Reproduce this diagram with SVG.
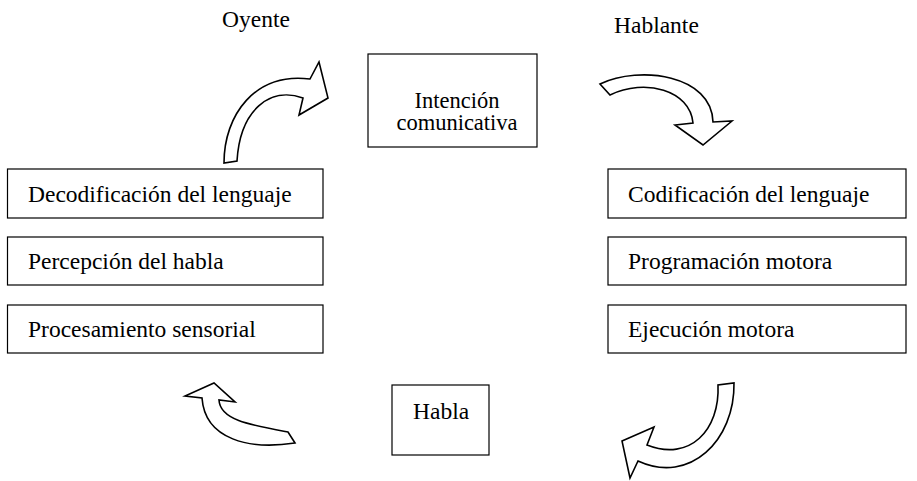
<svg xmlns="http://www.w3.org/2000/svg" width="917" height="481" viewBox="0 0 917 481">
<style>
.box{fill:#fff;stroke:#000;stroke-width:1.2}
text{font-family:'Liberation Serif','Tinos','Noto Serif','DejaVu Serif',serif;font-size:23.5px;fill:#000}
.mid{font-size:22.5px}
.arr{fill:#fff;stroke:#000;stroke-width:1.6;stroke-linejoin:miter}
</style>
<rect width="917" height="481" fill="#fff"/>
<g id="label-oyente"><text x="222" y="27">Oyente</text></g>
<g id="label-hablante"><text x="614" y="33">Hablante</text></g>
<g id="intencion">
<rect class="box" x="368" y="54" width="169" height="93"/>
<text class="mid" x="457" y="108" text-anchor="middle">Intención</text>
<text class="mid" x="457" y="130" text-anchor="middle">comunicativa</text>
</g>
<g id="decodificacion"><rect class="box" x="7.5" y="169" width="315.5" height="49"/><text x="28" y="201.5">Decodificación del lenguaje</text></g>
<g id="percepcion"><rect class="box" x="7.5" y="237" width="315.5" height="48"/><text x="28" y="269">Percepción del habla</text></g>
<g id="procesamiento"><rect class="box" x="7.5" y="305" width="315.5" height="48"/><text x="28" y="337">Procesamiento sensorial</text></g>
<g id="codificacion"><rect class="box" x="608" y="169" width="298" height="49"/><text x="628" y="201.5">Codificación del lenguaje</text></g>
<g id="programacion"><rect class="box" x="608" y="237" width="298" height="48"/><text x="628" y="269">Programación motora</text></g>
<g id="ejecucion"><rect class="box" x="608" y="305" width="298" height="48"/><text x="628" y="337">Ejecución motora</text></g>
<g id="habla"><rect class="box" x="392" y="385" width="97" height="70"/><text x="413" y="419">Habla</text></g>
<g id="connectors">
<path class="arr" d="M224,163 C224,115 255,72 310,79 L319,62 L328,98 L299,115 L303,98 C270,86 240,110 237,161 Z"/>
<path class="arr" d="M600,84 C640,65 712,75 713,122 L732,121 L703,145 L675,125 L693,123 C690,90 645,78 610,95 Z"/>
<path class="arr" d="M734,383 C735,440 690,485 638,461 L630,478 L622,441 L654,427 L647,445 C690,462 720,430 718,385 Z"/>
<path class="arr" d="M295,443 C250,450 205,440 202,398 L185,396 L214,383 L235,402 L219,400 C220,420 250,425 288,432 Z"/>
</g>
</svg>
